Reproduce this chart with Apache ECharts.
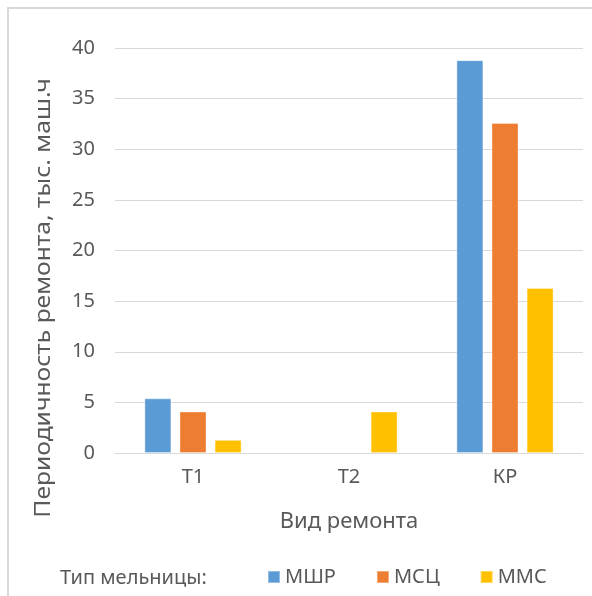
<!DOCTYPE html>
<html>
<head>
<meta charset="utf-8">
<script src="https://cdn.jsdelivr.net/npm/echarts@6/dist/echarts.min.js"></script>
<style>
  html, body { margin: 0; padding: 0; background: #fff; }
  #chart { width: 592px; height: 596px; }
</style>
</head>
<body>
<div id="chart"></div>
<script>
// Repair types on the category axis
const categories = ['Т1', 'Т2', 'КР'];
// Repair intervals, thousand machine-hours, per mill type
const seriesNames = ['МШР', 'МСЦ', 'ММС'];
const valuesMSHR = [5.4, null, 38.8];
const valuesMSC = [4.1, null, 32.6];
const valuesMMS = [1.3, 4.1, 16.3];
const yTicks = { min: 0, max: 40, interval: 5 };

const FONT = 'Noto Sans';
const TEXT = '#595959';
const colors = ['#5B9BD5', '#ED7D31', '#FFC000'];
const seriesData = [valuesMSHR, valuesMSC, valuesMMS];

const chart = echarts.init(document.getElementById('chart'), null, { renderer: 'canvas' });

chart.setOption({
  animation: false,
  backgroundColor: '#fff',
  textStyle: { fontFamily: FONT },
  grid: { left: 115, right: 9, top: 48, bottom: 143, containLabel: false },
  xAxis: {
    type: 'category',
    data: categories,
    axisLine: { show: true, lineStyle: { color: '#D9D9D9', width: 1 } },
    axisTick: { show: false },
    axisLabel: { color: TEXT, fontSize: 20, fontFamily: FONT, margin: 14 },
    name: 'Вид ремонта',
    nameLocation: 'middle',
    nameGap: 58,
    nameTextStyle: { color: TEXT, fontSize: 22, fontFamily: FONT }
  },
  yAxis: {
    type: 'value',
    min: yTicks.min,
    max: yTicks.max,
    interval: yTicks.interval,
    axisLine: { show: false },
    axisTick: { show: false },
    splitLine: { lineStyle: { color: '#D9D9D9', width: 1 } },
    axisLabel: { color: TEXT, fontSize: 20, fontFamily: FONT, margin: 20 }
  },
  legend: {
    left: 262,
    top: 562,
    itemWidth: 12,
    itemHeight: 12,
    itemGap: 40,
    icon: 'rect',
    textStyle: { color: TEXT, fontSize: 20, fontFamily: FONT },
    data: seriesNames
  },
  graphic: [
    {
      type: 'rect',
      shape: { x: 8, y: 8, width: 700, height: 700 },
      style: { fill: 'none', stroke: '#D9D9D9', lineWidth: 2 },
      silent: true, z: -1
    },
    {
      type: 'text',
      x: 44, y: 298,
      rotation: Math.PI / 2,
      scaleX: 1.12,
      style: {
        text: 'Периодичность ремонта, тыс. маш.ч',
        fill: TEXT, fontSize: 22, fontFamily: FONT,
        textAlign: 'center', textVerticalAlign: 'middle'
      }
    },
    {
      type: 'text',
      x: 60, y: 578,
      style: {
        text: 'Тип мельницы:',
        fill: TEXT, fontSize: 20, fontFamily: FONT,
        textAlign: 'left', textVerticalAlign: 'middle'
      }
    }
  ],
  series: seriesNames.map((name, i) => ({
    name,
    type: 'bar',
    data: seriesData[i],
    barWidth: 27,
    barGap: '30%',
    itemStyle: { color: colors[i], borderColor: 'rgba(255,255,255,0.35)', borderWidth: 1 }
  }))
});
</script>
</body>
</html>
